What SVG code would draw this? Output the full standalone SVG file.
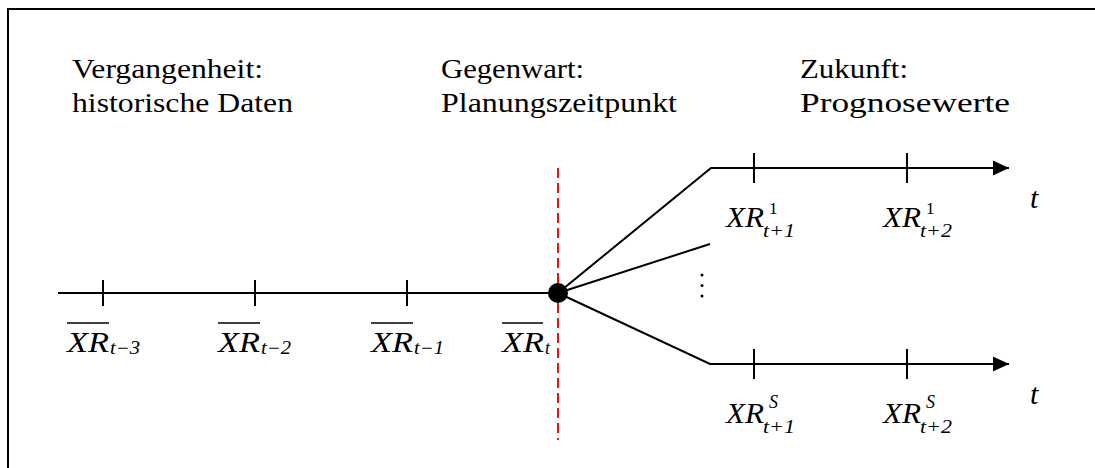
<svg xmlns="http://www.w3.org/2000/svg" width="1095" height="468" viewBox="0 0 1095 468">
<style>
.t,.m,.s,.n{font-family:'Liberation Serif','DejaVu Serif',serif;fill:#000}
.t{font-size:27px}
.m{font-style:italic;font-size:30px}
.s{font-style:italic;font-size:18px}
.n{font-size:17px}
.ln{stroke:#000;stroke-width:2;fill:none}
.ov{stroke:#000;stroke-width:1.5}
</style>
<defs>
<marker id="arr" markerUnits="userSpaceOnUse" markerWidth="18" markerHeight="16" refX="16" refY="8" orient="auto">
<path d="M0,0.5 L16,8 L0,15.5 Z" fill="#000"/>
</marker>
</defs>
<rect width="1095" height="468" fill="#fff"/>
<path d="M8,470 V9 H1097" stroke="#000" stroke-width="2" fill="none"/>

<g id="headers">
<text class="t" x="72" y="78" textLength="191" lengthAdjust="spacingAndGlyphs">Vergangenheit:</text>
<text class="t" x="72" y="112" textLength="221" lengthAdjust="spacingAndGlyphs">historische Daten</text>
<text class="t" x="441" y="78" textLength="143" lengthAdjust="spacingAndGlyphs">Gegenwart:</text>
<text class="t" x="441" y="112" textLength="236" lengthAdjust="spacingAndGlyphs">Planungszeitpunkt</text>
<text class="t" x="800" y="78" textLength="108" lengthAdjust="spacingAndGlyphs">Zukunft:</text>
<text class="t" x="800" y="112" textLength="210" lengthAdjust="spacingAndGlyphs">Prognosewerte</text>
</g>

<g id="connectors">
<line class="ln" x1="58" y1="293" x2="558" y2="293"/>
<line class="ln" x1="103" y1="280" x2="103" y2="306"/>
<line class="ln" x1="255" y1="280" x2="255" y2="306"/>
<line class="ln" x1="407" y1="280" x2="407" y2="306"/>
<line x1="558" y1="168" x2="558" y2="440" stroke="#e11" stroke-width="2" stroke-dasharray="10 5"/>
<polyline class="ln" points="558,293 711,168 1009,168" marker-end="url(#arr)"/>
<polyline class="ln" points="558,293 710,364 1009,364" marker-end="url(#arr)"/>
<line class="ln" x1="558" y1="293" x2="710" y2="244"/>
<line class="ln" x1="754" y1="153" x2="754" y2="183"/>
<line class="ln" x1="907" y1="153" x2="907" y2="183"/>
<line class="ln" x1="754" y1="349" x2="754" y2="379"/>
<line class="ln" x1="907" y1="349" x2="907" y2="379"/>
</g>

<g id="now-dot"><circle cx="558" cy="293" r="10" fill="#000"/></g>
<g id="ellipsis">
<circle cx="702" cy="275" r="1.5" fill="#000"/>
<circle cx="702" cy="285.5" r="1.5" fill="#000"/>
<circle cx="702" cy="296" r="1.5" fill="#000"/>
</g>

<g id="past-labels">
<line class="ov" x1="67" y1="323" x2="109" y2="323"/>
<text class="m" x="67" y="352" textLength="42" lengthAdjust="spacingAndGlyphs">XR</text>
<text class="s" x="110" y="354" textLength="30" lengthAdjust="spacingAndGlyphs">t−3</text>
<line class="ov" x1="218" y1="323" x2="260" y2="323"/>
<text class="m" x="218" y="352" textLength="42" lengthAdjust="spacingAndGlyphs">XR</text>
<text class="s" x="261" y="354" textLength="30" lengthAdjust="spacingAndGlyphs">t−2</text>
<line class="ov" x1="371" y1="323" x2="413" y2="323"/>
<text class="m" x="371" y="352" textLength="42" lengthAdjust="spacingAndGlyphs">XR</text>
<text class="s" x="414" y="354" textLength="30" lengthAdjust="spacingAndGlyphs">t−1</text>
<line class="ov" x1="502" y1="323" x2="543" y2="323"/>
<text class="m" x="502" y="352" textLength="42" lengthAdjust="spacingAndGlyphs">XR</text>
<text class="s" x="545" y="354">t</text>
</g>

<g id="future-labels-1">
<text class="m" x="726" y="227" textLength="38" lengthAdjust="spacingAndGlyphs">XR</text>
<text class="n" x="769" y="214">1</text>
<text class="s" x="763" y="237" textLength="32" lengthAdjust="spacingAndGlyphs">t+1</text>
<text class="m" x="883" y="227" textLength="38" lengthAdjust="spacingAndGlyphs">XR</text>
<text class="n" x="926" y="214">1</text>
<text class="s" x="920" y="237" textLength="32" lengthAdjust="spacingAndGlyphs">t+2</text>
<text class="m" x="1030" y="208">t</text>
</g>

<g id="future-labels-S">
<text class="m" x="726" y="423" textLength="38" lengthAdjust="spacingAndGlyphs">XR</text>
<text class="s" x="769" y="408">S</text>
<text class="s" x="763" y="433" textLength="32" lengthAdjust="spacingAndGlyphs">t+1</text>
<text class="m" x="883" y="423" textLength="38" lengthAdjust="spacingAndGlyphs">XR</text>
<text class="s" x="926" y="408">S</text>
<text class="s" x="920" y="433" textLength="32" lengthAdjust="spacingAndGlyphs">t+2</text>
<text class="m" x="1030" y="404">t</text>
</g>
</svg>
